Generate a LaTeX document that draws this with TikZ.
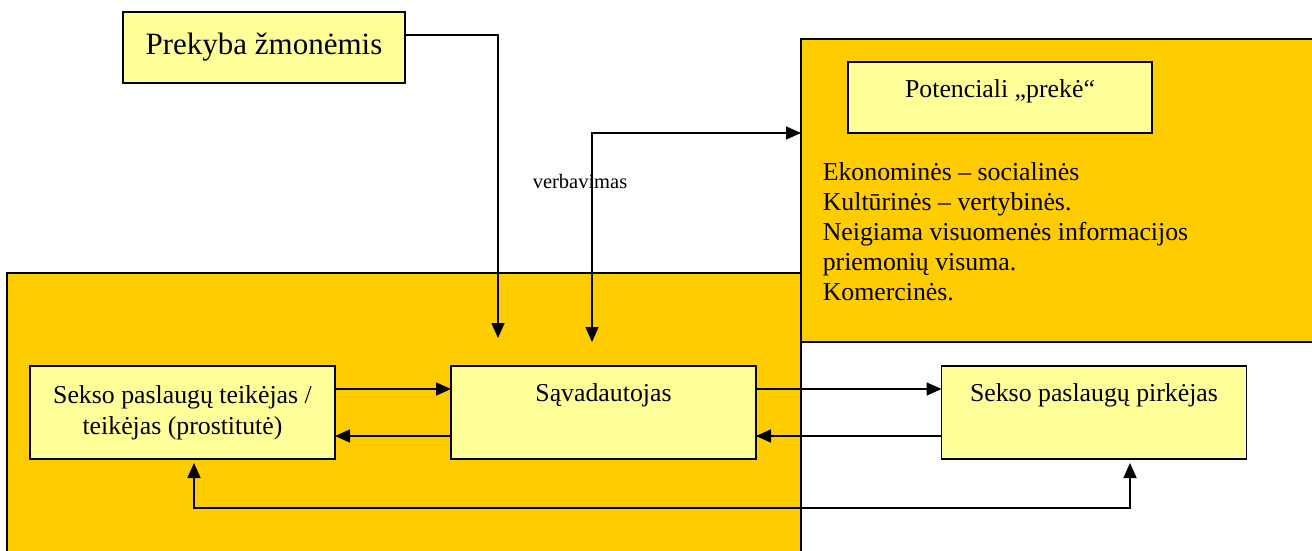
\documentclass[tikz,border=0pt]{standalone}
\usepackage{fontspec}
\setmainfont{Liberation Serif}
\usepackage{xcolor}
\usetikzlibrary{arrows.meta}
\usetikzlibrary{positioning}

\definecolor{orng}{HTML}{FFCC00}
\definecolor{lyel}{HTML}{FFFF99}

\begin{document}
\begin{tikzpicture}[x=1pt,y=1pt,>={Triangle[length=15pt,width=13pt]},line width=1.6pt]
  \tikzstyle{pane}=[draw, fill=orng, inner sep=0pt, outer sep=0pt]
  \tikzstyle{bx}=[draw, fill=lyel, inner sep=0pt, outer sep=0pt, minimum width=305pt, minimum height=93pt,
                  align=center, font=\fontsize{25.8}{31}\selectfont]
  \tikzstyle{topline}=[text height=35pt, text depth=58pt]
  \useasboundingbox (0,0) rectangle (1312,550);
  \clip (0,0) rectangle (1312,550);
  % background panes
  \node[pane, minimum width=794pt, minimum height=287pt] (D) at (404,133.5) {};
  \node[pane, minimum width=529pt, minimum height=303pt] (R) at (1065.5,359.5) {};
  % boxes
  \node[bx, minimum width=282pt, minimum height=71pt, font=\fontsize{31}{36}\selectfont] (P) at (264,502.5) {Prekyba žmonėmis};
  \node[bx, minimum width=304pt, minimum height=71pt, text height=36pt, text depth=35pt] (V) at (1000,452.5) {Potenciali „prekė“};
  \node[bx, topline] (S) at (603.5,137.5) {Sąvadautojas};
  \node[bx] (T) [left of=S, node distance=421pt] {Sekso paslaugų teikėjas /\\teikėjas (prostitutė)};
  \node[bx, topline] (K) [right of=S, node distance=490.5pt] {Sekso paslaugų pirkėjas};
  \node[anchor=north west, align=left, inner sep=0pt, font=\fontsize{25.8}{30}\selectfont] (L) at (822,388)
    {Ekonominės – socialinės\\Kultūrinės – vertybinės.\\Neigiama visuomenės informacijos\\priemonių visuma.\\Komercinės.};
  \node[font=\fontsize{20.5}{24}\selectfont] (vb) at (580,369) {verbavimas};
  % connectors
  \coordinate (a1) at (498,212);
  \coordinate (a2) at (592,208);
  \draw[->] ([yshift=12.5pt]P.east) -| (a1);
  \draw[<->] (a2) |- ([yshift=57.5pt]R.west);
  \draw[->] ([yshift=23.5pt]T.east) -- ([yshift=23.5pt]S.west);
  \draw[->] ([yshift=-23.5pt]S.west) -- ([yshift=-23.5pt]T.east);
  \draw[->] ([yshift=23.5pt]S.east) -- ([yshift=23.5pt]K.west);
  \draw[->] ([yshift=-23.5pt]K.west) -- ([yshift=-23.5pt]S.east);
  \draw[<->, shorten <=4pt, shorten >=4pt] ([xshift=11.5pt]T.south) -- ++(0,-49) -| ([xshift=36pt]K.south);
\end{tikzpicture}
\end{document}
